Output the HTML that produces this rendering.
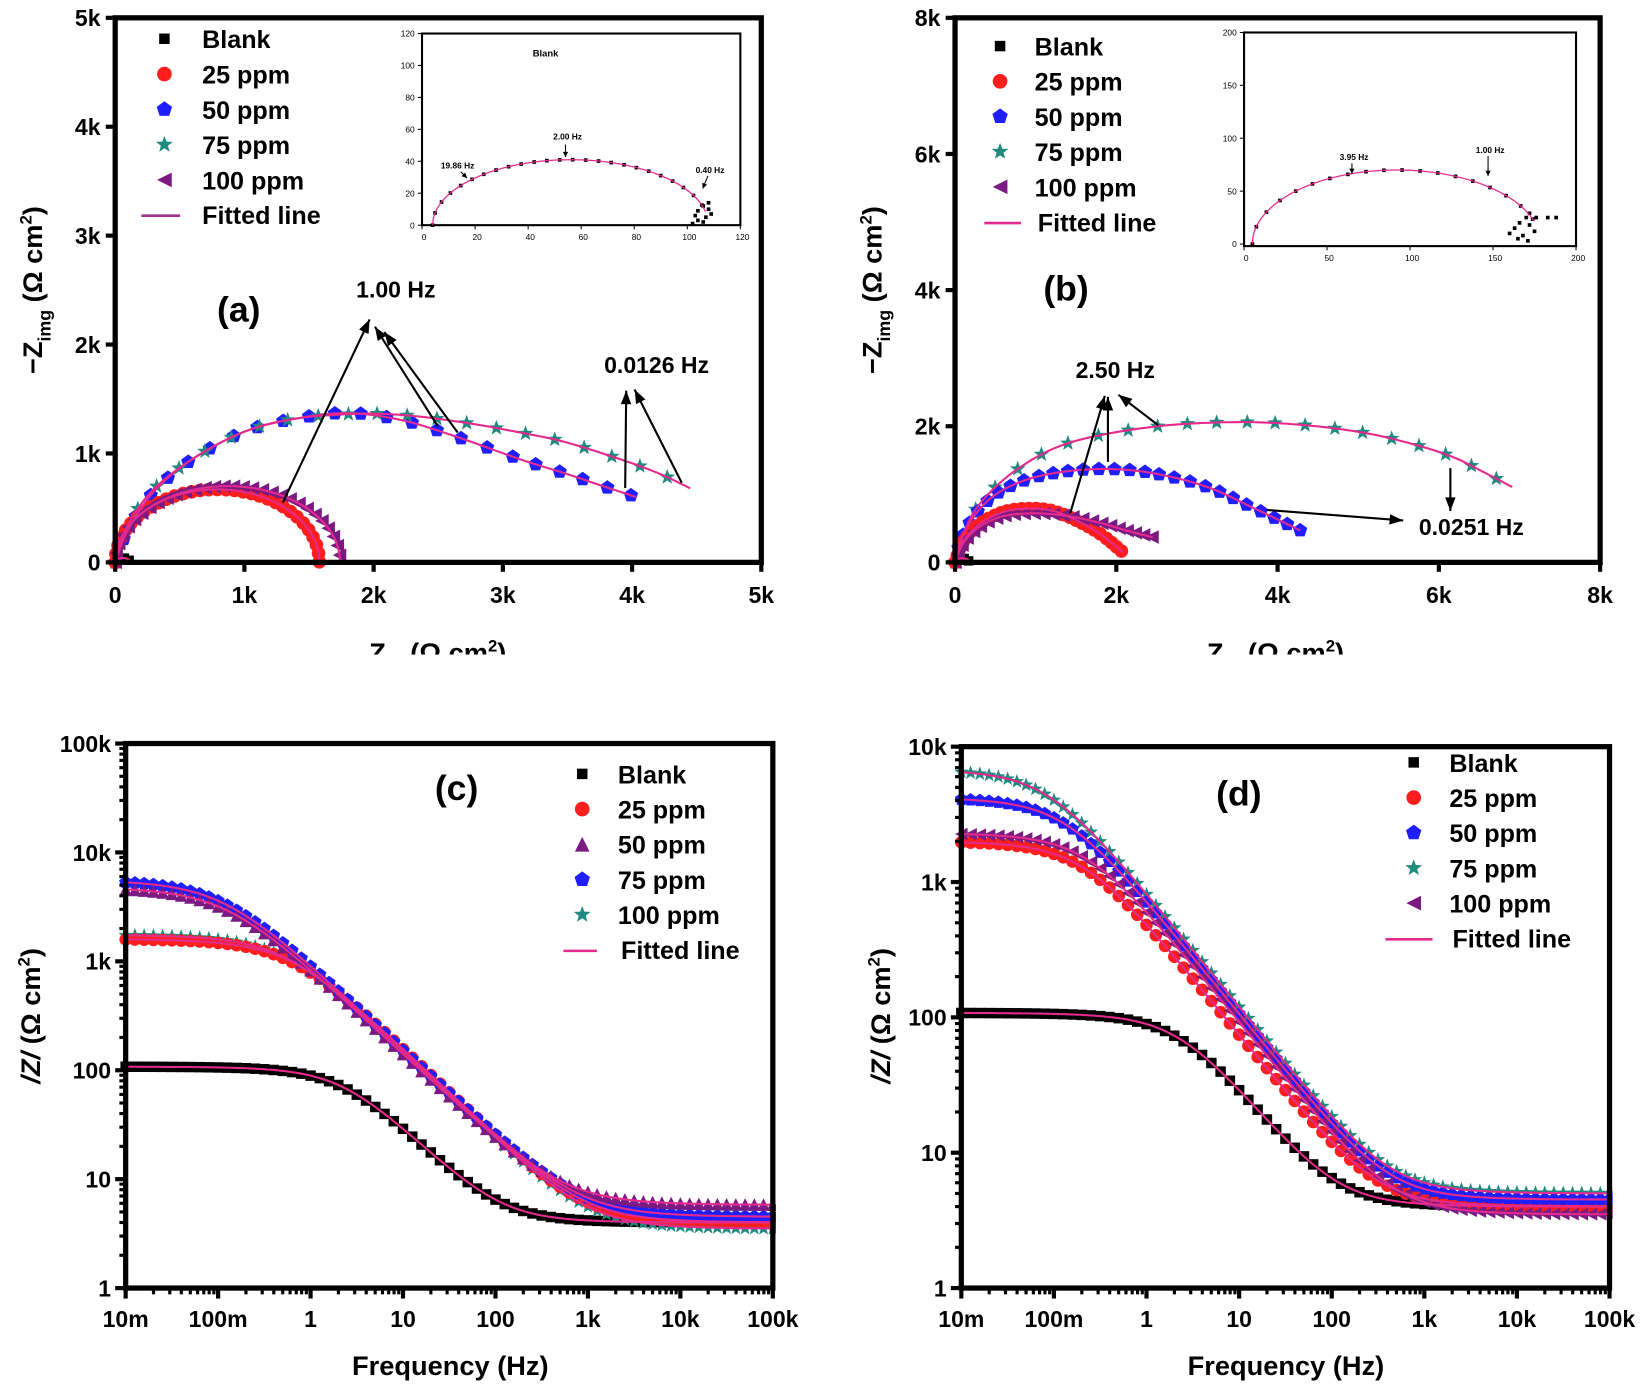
<!DOCTYPE html>
<html><head><meta charset="utf-8"><style>
html,body{margin:0;padding:0;background:#fff;}
svg{display:block;font-family:"Liberation Sans",Arial,sans-serif;font-weight:bold;}
</style></head><body>
<svg id="s" width="1642" height="1386" viewBox="0 0 1568 1323.5" xmlns="http://www.w3.org/2000/svg">
<rect width="1568" height="1324" fill="#fff"/>
<g id="g"></g>
</svg>
<script>
const NS="http://www.w3.org/2000/svg";const G=document.getElementById('g');
function el(t,a,p){const e=document.createElementNS(NS,t);for(const k in a)e.setAttribute(k,a[k]);(p||G).appendChild(e);return e;}
function txt(x,y,s,size,anchor,extra){const e=el('text',Object.assign({x:x,y:y,'font-size':size,'text-anchor':anchor||'start'},extra||{}));e.textContent=s;return e;}
const C={blk:'#000',red:'#ff1e1e',blue:'#1e1eff',teal:'#1f8a80',pur:'#7a1a82',fit:'#e42a8c'};
function marker(type,x,y,s,col,p){
 if(type=='sq')el('rect',{x:x-s/2,y:y-s/2,width:s,height:s,fill:col},p);
 else if(type=='ci')el('circle',{cx:x,cy:y,r:s/2,fill:col},p);
 else{let pts=[];
  if(type=='pe'){for(let i=0;i<5;i++){const a=-Math.PI/2+i*2*Math.PI/5;pts.push([x+s*0.55*Math.cos(a),y+s*0.55*Math.sin(a)]);}}
  else if(type=='st'){for(let i=0;i<10;i++){const a=-Math.PI/2+i*Math.PI/5;const r=i%2?s*0.25:s*0.6;pts.push([x+r*Math.cos(a),y+r*Math.sin(a)]);}}
  else if(type=='lt'){pts=[[x-s/2,y],[x+s/2,y-s/2],[x+s/2,y+s/2]];}
  else if(type=='ut'){pts=[[x,y-s/2],[x-s/2,y+s/2],[x+s/2,y+s/2]];}
  el('polygon',{points:pts.map(q=>q.join(',')).join(' '),fill:col},p);}
}
function freqs(ppd){const f=[];for(let i=5*ppd;i>=-2*ppd;i--)f.push(Math.pow(10,i/ppd));return f;}
function zq(R,Rs,n,Q,f){const w=2*Math.PI*f;const a=R*Q*Math.pow(w,n),c=Math.cos(n*Math.PI/2),s=Math.sin(n*Math.PI/2);const dr=1+a*c,di=a*s,d2=dr*dr+di*di;const re=Rs+R*dr/d2,im=R*di/d2;return Math.sqrt(re*re+im*im);}
function poly(pts,col,w){el('polyline',{points:pts.map(q=>q[0].toFixed(1)+','+q[1].toFixed(1)).join(' '),fill:'none',stroke:col,'stroke-width':w||2});}
function arrow(x1,y1,x2,y2,L,W){L=L||13;W=W||5;el('line',{x1:x1,y1:y1,x2:x2,y2:y2,stroke:'#000','stroke-width':L<10?1:2});const a=Math.atan2(y2-y1,x2-x1);
 el('polygon',{points:[[x2,y2],[x2-L*Math.cos(a)+W*Math.sin(a),y2-L*Math.sin(a)-W*Math.cos(a)],[x2-L*Math.cos(a)-W*Math.sin(a),y2-L*Math.sin(a)+W*Math.cos(a)]].map(q=>q.join(',')).join(' '),fill:'#000'});}
function box(x0,y0,x1,y1,w){el('rect',{x:x0,y:y0,width:x1-x0,height:y1-y0,fill:'none',stroke:'#000','stroke-width':w});}
function smooth(P){const out=[];const n=P.length;for(let i=0;i<n-1;i++){const p0=P[Math.max(0,i-1)],p1=P[i],p2=P[i+1],p3=P[Math.min(n-1,i+2)];
 for(let k=0;k<20;k++){const t=k/20,t2=t*t,t3=t2*t;const f=(a,b,c,d)=>0.5*((2*b)+(-a+c)*t+(2*a-5*b+4*c-d)*t2+(-a+3*b-3*c+d)*t3);
  out.push([f(p0[0],p1[0],p2[0],p3[0]),f(p0[1],p1[1],p2[1],p3[1])]);}}out.push(P[n-1]);return out;}
function alongMarks(D,sp){const m=[D[0]];let acc=0;for(let i=1;i<D.length;i++){const dx=D[i][0]-D[i-1][0],dy=D[i][1]-D[i-1][1];acc+=Math.hypot(dx,dy);if(acc>=sp){m.push(D[i]);acc=0;}}return m;}
function ell(cx,r,h,n){const P=[];for(let i=0;i<=n;i++){const t=Math.PI*i/n;P.push([cx-r*Math.cos(t),h*Math.sin(t)]);}return P;}
function nyPanel(X,Y,series){
 const Ds=series.map(s=>smooth(s.pts.map(q=>[X(q[0]),Y(q[1])])));
 series.forEach((s,i)=>alongMarks(Ds[i],s.sp).forEach(q=>marker(s.m,q[0],q[1],s.sz||13,s.c)));
 Ds.forEach(D=>poly(D,C.fit,2));
}
const L5=(a,b,c,d,e)=>[['sq',C.blk,'Blank'],['ci',C.red,'25 ppm'],[a,b,'50 ppm'],[c,d,'75 ppm'],[e[0],e[1],'100 ppm']];
// panel a
{const X=v=>110+v*617/5000,Y=v=>537-v*520/5000;
 nyPanel(X,Y,[
 {pts:ell(60,55,40,8),sp:5,m:'sq',c:C.blk,sz:9},
 {pts:[[0,0],[100,300],[300,650],[600,950],[1000,1200],[1400,1320],[1800,1370],[2200,1310],[2600,1170],[3150,940],[3500,810],[3750,710],[4030,600]],sp:23,m:'pe',c:C.blue},
 {pts:[[0,0],[80,300],[280,650],[600,950],[1000,1200],[1400,1320],[1900,1365],[2300,1345],[2720,1280],[3100,1200],[3480,1105],[3900,950],[4200,820],[4450,680]],sp:27,m:'st',c:C.teal},
 {pts:ell(790,790,670,24),sp:8,m:'ci',c:C.red},
 {pts:ell(870,870,700,24),sp:9,m:'lt',c:C.pur}]);
 box(110,17,727,537,5);
 [0,1,2,3,4,5].forEach(k=>{const x=X(k*1000),y=Y(k*1000);
  el('line',{x1:x,y1:537,x2:x,y2:546,stroke:'#000','stroke-width':4});
  el('line',{x1:110,y1:y,x2:101,y2:y,stroke:'#000','stroke-width':4});
  txt(x,576,k?k+'k':'0',22,'middle');txt(96,y+8,k?k+'k':'0',22,'end');});
 const t=txt(0,0,'',26,'middle',{transform:'translate(40,277) rotate(-90)'});
 t.innerHTML='−Z<tspan font-size="17" dy="8">img</tspan><tspan dy="-8"> (Ω cm</tspan><tspan font-size="16" dy="-10">2</tspan><tspan dy="10">)</tspan>';
 const t2=txt(418,632,'',26,'middle');t2.innerHTML='Z<tspan font-size="17" dy="8">re</tspan><tspan dy="-8"> (Ω cm</tspan><tspan font-size="16" dy="-10">2</tspan><tspan dy="10">)</tspan>';
 txt(228,307,'(a)',34,'middle');txt(378,284,'1.00 Hz',22,'middle');txt(627,356,'0.0126 Hz',22,'middle');
 arrow(270,480,353,305);arrow(418,407,358,312);arrow(437,413,367,317);arrow(597,466,598,373);arrow(651,461,606,372);
 L5('pe',C.blue,'st',C.teal,['lt',C.pur]).forEach((l,i)=>{const y=37+i*33.7;marker(l[0],157,y,l[0]=='sq'?10:14,l[1]);txt(193,y+9,l[2],24);});
 el('line',{x1:135,y1:206,x2:172,y2:206,stroke:'#a0308c','stroke-width':2.5});txt(193,214,'Fitted line',24);
 const IX=v=>403+v*304/120,IY=v=>215-v*183/120;
 box(403,32,707,215,2);
 [0,20,40,60,80,100,120].forEach(k=>{el('line',{x1:IX(k),y1:215,x2:IX(k),y2:219,stroke:'#000','stroke-width':1});el('line',{x1:403,y1:IY(k),x2:399,y2:IY(k),stroke:'#000','stroke-width':1});
  txt(IX(k)+2,229,k+'',8,'middle',{'font-weight':'normal'});txt(396,IY(k)+3,k+'',8,'end',{'font-weight':'normal'});});
 const D=smooth(ell(56,52,41,30).map(q=>[IX(q[0]),IY(q[1])]).slice(0,29));
 alongMarks(D,12).forEach(q=>marker('sq',q[0],q[1],3.5,'#000'));
 [[104,3],[103,6],[104,9],[106,12],[108,14],[108,10],[107,5],[109,7],[106,2],[102,1]].forEach(q=>marker('sq',IX(q[0]),IY(q[1]),3.5,'#000'));
 poly(D,C.fit,1.2);
 txt(521,54,'Blank',9,'middle');txt(437,161,'19.86 Hz',8,'middle');txt(542,133,'2.00 Hz',8,'middle');txt(678,165,'0.40 Hz',8,'middle');
 arrow(440,164,446,170,5,2.5);arrow(540,138,540,150,5,2.5);arrow(676,168,671,180,5,2.5);
}
// panel b
{const X=v=>912+v*616/8000,Y=v=>537-v*520/8000;
 nyPanel(X,Y,[
 {pts:ell(90,85,60,8),sp:5,m:'sq',c:C.blk,sz:9},
 {pts:[[0,0],[100,400],[300,850],[750,1350],[1400,1750],[2410,1985],[3440,2060],[4300,2020],[5090,1900],[5700,1730],[6170,1550],[6550,1330],[6910,1107]],sp:26,m:'st',c:C.teal},
 {pts:[[0,0],[80,350],[250,700],[505,1000],[900,1220],[1400,1340],[1950,1370],[2500,1300],[3135,1105],[3700,800],[4280,470]],sp:13,m:'pe',c:C.blue},
 {pts:[[0,0],[100,300],[300,560],[600,740],[900,790],[1200,760],[1500,620],[1800,420],[2080,150]],sp:6,m:'ci',c:C.red},
 {pts:[[0,0],[100,280],[300,520],[600,680],[1000,720],[1400,680],[1800,580],[2150,460],[2450,370]],sp:8,m:'lt',c:C.pur}]);
 box(912,17,1528,537,5);
 [0,2,4,6,8].forEach(k=>{const x=X(k*1000),y=Y(k*1000);
  el('line',{x1:x,y1:537,x2:x,y2:546,stroke:'#000','stroke-width':4});
  el('line',{x1:912,y1:y,x2:903,y2:y,stroke:'#000','stroke-width':4});
  txt(x,576,k?k+'k':'0',22,'middle');txt(898,y+8,k?k+'k':'0',22,'end');});
 const t=txt(0,0,'',26,'middle',{transform:'translate(842,277) rotate(-90)'});
 t.innerHTML='−Z<tspan font-size="17" dy="8">img</tspan><tspan dy="-8"> (Ω cm</tspan><tspan font-size="16" dy="-10">2</tspan><tspan dy="10">)</tspan>';
 const t2=txt(1218,632,'',26,'middle');t2.innerHTML='Z<tspan font-size="17" dy="8">re</tspan><tspan dy="-8"> (Ω cm</tspan><tspan font-size="16" dy="-10">2</tspan><tspan dy="10">)</tspan>';
 txt(1018,287,'(b)',34,'middle');txt(1065,361,'2.50 Hz',22,'middle');txt(1405,511,'0.0251 Hz',22,'middle');
 arrow(1022,490,1055,378);arrow(1058,441,1058,379);arrow(1106,406,1068,377);arrow(1210,487,1340,497);arrow(1385,447,1385,488);
 L5('pe',C.blue,'st',C.teal,['lt',C.pur]).forEach((l,i)=>{const y=44+i*33.6;marker(l[0],955,y,l[0]=='sq'?10:14,l[1]);txt(988,y+9,l[2],24);});
 el('line',{x1:940,y1:213,x2:975,y2:213,stroke:C.fit,'stroke-width':2.5});txt(991,221,'Fitted line',24);
 const IX=v=>1188+v*317/200,IY=v=>233-v*202/200;
 box(1188,31,1505,235,2);
 [0,50,100,150,200].forEach(k=>{el('line',{x1:IX(k),y1:235,x2:IX(k),y2:239,stroke:'#000','stroke-width':1});el('line',{x1:1188,y1:IY(k),x2:1184,y2:IY(k),stroke:'#000','stroke-width':1});
  txt(IX(k)+2,249,k+'',8,'middle',{'font-weight':'normal'});txt(1181,IY(k)+3,k+'',8,'end',{'font-weight':'normal'});});
 const D=smooth(ell(92,87,70,30).map(q=>[IX(q[0]),IY(q[1])]).slice(0,28));
 alongMarks(D,17).forEach(q=>marker('sq',q[0],q[1],3.5,'#000'));
 [[160,10],[163,15],[166,20],[170,25],[172,18],[168,8],[171,3],[175,12],[176,25],[183,25],[188,25],[165,5],[172,29]].forEach(q=>marker('sq',IX(q[0]),IY(q[1]),3.5,'#000'));
 poly(D,C.fit,1.2);
 txt(1293,153,'3.95 Hz',8,'middle');txt(1423,146,'1.00 Hz',8,'middle');
 arrow(1291,156,1291,166,5,2.5);arrow(1421,149,1421,168,5,2.5);
}
// ---------- Bode panels ----------
function bodePanel(x0,x1,y0,y1,dec,labels,series){
 const X=f=>x0+(Math.log10(f)+2)*(x1-x0)/7,Y=v=>y1-Math.log10(v)*(y1-y0)/dec;
 const F=freqs(10),FF=freqs(40);
 series.forEach(s=>{F.forEach(f=>marker(s.m,X(f),Y(zq(s.R,s.Rs,s.n,s.Q,f)),s.sz||12,s.c));});
 series.forEach(s=>{poly(FF.map(f=>[X(f),Y(zq(s.R,s.Rs,s.n,s.Q,f))]),C.fit,2);});
 el('rect',{x:x1+3,y:y0,width:40,height:y1-y0,fill:'#fff'});
 box(x0,y0,x1,y1,5);
 const xl=['10m','100m','1','10','100','1k','10k','100k'];
 for(let d=0;d<=7;d++){const x=x0+d*(x1-x0)/7;el('line',{x1:x,y1:y1,x2:x,y2:y1+10,stroke:'#000','stroke-width':4});txt(x,y1+37,xl[d],22,'middle');
  if(d<7)for(let m=2;m<10;m++){const xm=x+Math.log10(m)*(x1-x0)/7;el('line',{x1:xm,y1:y1,x2:xm,y2:y1+6,stroke:'#000','stroke-width':3});}}
 for(let d=0;d<=dec;d++){const y=y1-d*(y1-y0)/dec;el('line',{x1:x0,y1:y,x2:x0-10,y2:y,stroke:'#000','stroke-width':4});txt(x0-14,y+8,labels[d],22,'end');
  if(d<dec)for(let m=2;m<10;m++){const ym=y-Math.log10(m)*(y1-y0)/dec;el('line',{x1:x0,y1:ym,x2:x0-6,y2:ym,stroke:'#000','stroke-width':3});}}
}
{bodePanel(120,738,710,1230,5,['1','10','100','1k','10k','100k'],[
 {R:104,Rs:4,n:0.85,Q:1e-3,m:'sq',c:C.blk,sz:10},
 {R:1750,Rs:3.5,n:0.82,Q:2.2e-4,m:'st',c:C.teal},
 {R:1600,Rs:4,n:0.82,Q:2.1e-4,m:'ci',c:C.red},
 {R:5600,Rs:4.5,n:0.8,Q:2.4e-4,m:'pe',c:C.blue},
 {R:4800,Rs:5.8,n:0.8,Q:2.6e-4,m:'ut',c:C.pur}]);
 txt(436,764,'(c)',34,'middle');
 L5('ut',C.pur,'pe',C.blue,['st',C.teal]).forEach((l,i)=>{const y=739+i*33.6;marker(l[0],556,y,l[0]=='sq'?10:14,l[1]);txt(590,y+9,l[2],24);});
 el('line',{x1:538,y1:908,x2:570,y2:908,stroke:C.fit,'stroke-width':2.5});txt(593,916,'Fitted line',24);
 const t=txt(0,0,'',26,'middle',{transform:'translate(38,970) rotate(-90)'});
 t.innerHTML='<tspan font-style="italic">/Z/</tspan> (Ω cm<tspan font-size="16" dy="-10">2</tspan><tspan dy="10">)</tspan>';
 txt(430,1313,'Frequency (Hz)',26,'middle');
}
{bodePanel(918,1537,713,1230,4,['1','10','100','1k','10k'],[
 {R:104,Rs:4,n:0.85,Q:1e-3,m:'sq',c:C.blk,sz:10},
 {R:2000,Rs:4,n:0.85,Q:4e-4,m:'ci',c:C.red},
 {R:6800,Rs:5,n:0.85,Q:2.5e-4,m:'st',c:C.teal},
 {R:4200,Rs:4.5,n:0.85,Q:2.8e-4,m:'pe',c:C.blue},
 {R:2300,Rs:3.5,n:0.85,Q:3.2e-4,m:'lt',c:C.pur}]);
 txt(1183,769,'(d)',34,'middle');
 L5('pe',C.blue,'st',C.teal,['lt',C.pur]).forEach((l,i)=>{const y=728+i*33.6;marker(l[0],1350,y,l[0]=='sq'?10:14,l[1]);txt(1384,y+9,l[2],24);});
 el('line',{x1:1323,y1:897,x2:1368,y2:897,stroke:C.fit,'stroke-width':2.5});txt(1387,905,'Fitted line',24);
 const t=txt(0,0,'',26,'middle',{transform:'translate(850,970) rotate(-90)'});
 t.innerHTML='<tspan font-style="italic">/Z/</tspan> (Ω cm<tspan font-size="16" dy="-10">2</tspan><tspan dy="10">)</tspan>';
 txt(1228,1313,'Frequency (Hz)',26,'middle');
}
el('rect',{x:0,y:625,width:1568,height:60,fill:'#fff'});
</script>
</body></html>
